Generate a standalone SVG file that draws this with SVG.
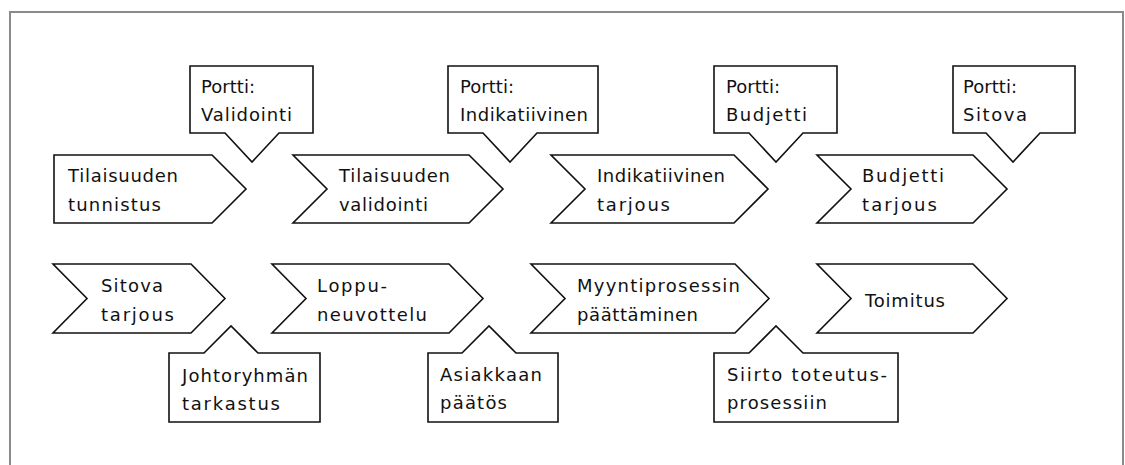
<svg xmlns="http://www.w3.org/2000/svg" width="1125" height="465" viewBox="0 0 1125 465">
<style>
.frame{fill:none;stroke:#8a8a8a;stroke-width:2}
.shape{fill:#fff;stroke:#111;stroke-width:1.6;stroke-linejoin:miter}
.t{font-family:"DejaVu Sans","Liberation Sans",sans-serif;font-size:18px;fill:#111}
</style>
<rect width="1125" height="465" fill="#fff"/>
<path class="frame" d="M10,470 V12 H1123 V470"/>
<g id="connectors"></g>
<g id="n1">
<path class="shape" d="M54,155 H212 L246,189 L212,223 H54 Z"/>
<text class="t" x="68" y="182" textLength="110" lengthAdjust="spacing">Tilaisuuden</text>
<text class="t" x="68" y="211" textLength="93" lengthAdjust="spacing">tunnistus</text>
</g>
<g id="g1">
<path class="shape" d="M190,66 H313 V133 H279 L252,162 L225,133 H190 Z"/>
<text class="t" x="201" y="93" textLength="54" lengthAdjust="spacing">Portti:</text>
<text class="t" x="201" y="121" textLength="91" lengthAdjust="spacing">Validointi</text>
</g>
<g id="n2">
<path class="shape" d="M293,155 H469 L503,189 L469,223 H293 L327,189 Z"/>
<text class="t" x="339" y="182" textLength="111" lengthAdjust="spacing">Tilaisuuden</text>
<text class="t" x="339" y="211" textLength="89" lengthAdjust="spacing">validointi</text>
</g>
<g id="g2">
<path class="shape" d="M448,66 H598 V133 H537 L510,162 L483,133 H448 Z"/>
<text class="t" x="460" y="93" textLength="54" lengthAdjust="spacing">Portti:</text>
<text class="t" x="460" y="121" textLength="128" lengthAdjust="spacing">Indikatiivinen</text>
</g>
<g id="n3">
<path class="shape" d="M551,155 H734 L768,189 L734,223 H551 L585,189 Z"/>
<text class="t" x="597" y="182" textLength="128" lengthAdjust="spacing">Indikatiivinen</text>
<text class="t" x="597" y="211" textLength="73" lengthAdjust="spacing">tarjous</text>
</g>
<g id="g3">
<path class="shape" d="M714,66 H837 V133 H803 L776,162 L749,133 H714 Z"/>
<text class="t" x="726" y="93" textLength="54" lengthAdjust="spacing">Portti:</text>
<text class="t" x="726" y="121" textLength="81" lengthAdjust="spacing">Budjetti</text>
</g>
<g id="n4">
<path class="shape" d="M817,155 H973 L1007,189 L973,223 H817 L851,189 Z"/>
<text class="t" x="862" y="182" textLength="82" lengthAdjust="spacing">Budjetti</text>
<text class="t" x="862" y="211" textLength="75" lengthAdjust="spacing">tarjous</text>
</g>
<g id="g4">
<path class="shape" d="M953,66 H1075 V133 H1040 L1013,162 L986,133 H953 Z"/>
<text class="t" x="963" y="93" textLength="54" lengthAdjust="spacing">Portti:</text>
<text class="t" x="963" y="121" textLength="64" lengthAdjust="spacing">Sitova</text>
</g>
<g id="n5">
<path class="shape" d="M53,264 H191 L225,298.5 L191,333 H53 L87,298.5 Z"/>
<text class="t" x="101" y="292" textLength="62" lengthAdjust="spacing">Sitova</text>
<text class="t" x="101" y="321" textLength="73" lengthAdjust="spacing">tarjous</text>
</g>
<g id="g5">
<path class="shape" d="M169,353 H204 L231,326 L258,353 H320 V422 H169 Z"/>
<text class="t" x="182" y="382" textLength="126" lengthAdjust="spacing">Johtoryhmän</text>
<text class="t" x="182" y="410" textLength="98" lengthAdjust="spacing">tarkastus</text>
</g>
<g id="n6">
<path class="shape" d="M272,264 H449 L483,298.5 L449,333 H272 L306,298.5 Z"/>
<text class="t" x="317" y="292" textLength="70" lengthAdjust="spacing">Loppu-</text>
<text class="t" x="317" y="321" textLength="110" lengthAdjust="spacing">neuvottelu</text>
</g>
<g id="g6">
<path class="shape" d="M428,353 H462 L489,326 L516,353 H558 V422 H428 Z"/>
<text class="t" x="440" y="381" textLength="102" lengthAdjust="spacing">Asiakkaan</text>
<text class="t" x="440" y="409" textLength="67" lengthAdjust="spacing">päätös</text>
</g>
<g id="n7">
<path class="shape" d="M531,264 H735 L769,298.5 L735,333 H531 L565,298.5 Z"/>
<text class="t" x="577" y="292" textLength="163" lengthAdjust="spacing">Myyntiprosessin</text>
<text class="t" x="577" y="321" textLength="121" lengthAdjust="spacing">päättäminen</text>
</g>
<g id="g7">
<path class="shape" d="M714,353 H749 L776,326 L803,353 H898 V422 H714 Z"/>
<text class="t" x="727" y="381" textLength="160" lengthAdjust="spacing">Siirto toteutus-</text>
<text class="t" x="727" y="409" textLength="100" lengthAdjust="spacing">prosessiin</text>
</g>
<g id="n8">
<path class="shape" d="M817,264 H973 L1007,298.5 L973,333 H817 L851,298.5 Z"/>
<text class="t" x="865" y="307" textLength="80" lengthAdjust="spacing">Toimitus</text>
</g>
</svg>
